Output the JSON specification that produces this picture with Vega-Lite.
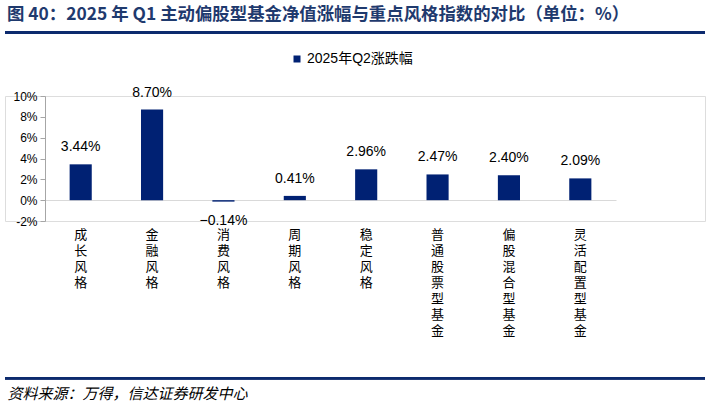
{
  "$schema": "https://vega.github.io/schema/vega-lite/v6.json",
  "width": 700,
  "height": 125,
  "autosize": "none",
  "padding": {"left": 5, "top": 96, "right": 1, "bottom": 187},
  "background": "white",
  "title": {
    "text": "图 40：2025 年 Q1 主动偏股型基金净值涨幅与重点风格指数的对比（单位：%）",
    "anchor": "start",
    "frame": "group",
    "orient": "top",
    "offset": 8,
    "dx": 2,
    "font": "Noto Sans CJK SC",
    "fontSize": 17.4,
    "fontWeight": "bold",
    "color": "#1f3a6e"
  },
  "data": {
    "values": [
      {"cat": "成长风格", "v": 3.44},
      {"cat": "金融风格", "v": 8.70},
      {"cat": "消费风格", "v": -0.14},
      {"cat": "周期风格", "v": 0.41},
      {"cat": "稳定风格", "v": 2.96},
      {"cat": "普通股票型基金", "v": 2.47},
      {"cat": "偏股混合型基金", "v": 2.40},
      {"cat": "灵活配置型基金", "v": 2.09}
    ]
  },
  "transform": [
    {"calculate": "format(datum.v, '.2f') + '%'", "as": "label"}
  ],
  "resolve": {"axis": {"x": "independent", "y": "independent"}},
  "layer": [
    {
      "mark": {"type": "rule", "color": "#0c2b6e", "strokeWidth": 2},
      "encoding": {"y": {"datum": 16.1, "axis": null}}
    },
    {
      "mark": {"type": "rule", "color": "#0c2b6e", "strokeWidth": 2},
      "encoding": {"y": {"datum": -17.1, "axis": null}}
    },
    {
      "mark": {"type": "bar", "color": "#002173"},
      "encoding": {
        "x": {
          "field": "cat",
          "type": "nominal",
          "sort": null,
          "scale": {"range": [40, 611], "paddingInner": 0.69, "paddingOuter": 0.345},
          "axis": {
            "orient": "bottom",
            "title": "资料来源：万得，信达证券研发中心",
            "titleFont": "Noto Sans CJK SC",
            "titleFontStyle": "italic",
            "titleFontWeight": "normal",
            "titleFontSize": 15,
            "titleColor": "#000000",
            "titleX": 2,
            "titleY": 172,
            "titleAlign": "left",
            "titleBaseline": "middle",
            "titleAnchor": "start",
            "domain": false,
            "ticks": false,
            "labelAngle": 0,
            "labelAlign": "center",
            "labelBaseline": "top",
            "labelPadding": 7,
            "labelLineHeight": 16,
            "labelFont": "Noto Sans CJK SC",
            "labelFontSize": 13,
            "labelColor": "#000000",
            "labelOverlap": false,
            "labelBound": false,
            "labelExpr": "split(datum.label, '')"
          }
        },
        "y": {
          "field": "v",
          "type": "quantitative",
          "scale": {"domain": [-2, 10], "nice": false},
          "axis": {
            "title": null,
            "offset": -40,
            "values": [-2, 0, 2, 4, 6, 8, 10],
            "labelExpr": "datum.value + '%'",
            "labelOverlap": false,
            "labelBound": false,
            "labelFlush": false,
            "grid": false,
            "domainColor": "#a6a6a6",
            "tickColor": "#a6a6a6",
            "tickSize": 5,
            "labelPadding": 3,
            "labelFont": "Liberation Sans",
            "labelFontSize": 12,
            "labelColor": "#000000"
          }
        },
        "color": {
          "datum": "2025年Q2涨跌幅",
          "scale": {"range": ["#002173"]},
          "legend": {
            "orient": "none",
            "legendX": 285,
            "legendY": -44,
            "title": null,
            "symbolType": "square",
            "symbolSize": 49,
            "symbolStrokeWidth": 0,
            "labelFont": "Liberation Sans, Noto Sans CJK SC",
            "labelFontSize": 14,
            "labelColor": "#000000",
            "labelOffset": 3
          }
        }
      }
    },
    {
      "transform": [{"filter": "datum.v >= 0"}],
      "mark": {"type": "text", "baseline": "bottom", "dy": -10, "font": "Liberation Sans", "fontSize": 14, "color": "#000000"},
      "encoding": {
        "x": {
          "field": "cat",
          "type": "nominal",
          "sort": null,
          "axis": {
            "orient": "top",
            "offset": -104,
            "title": null,
            "labels": false,
            "ticks": false,
            "domainColor": "#d9d9d9",
            "domainWidth": 1
          }
        },
        "y": {"field": "v", "type": "quantitative", "axis": null},
        "text": {"field": "label"}
      }
    },
    {
      "transform": [{"filter": "datum.v < 0"}],
      "mark": {"type": "text", "baseline": "top", "dy": 12, "font": "Liberation Sans", "fontSize": 14, "color": "#000000"},
      "encoding": {
        "x": {"field": "cat", "type": "nominal", "sort": null, "axis": null},
        "y": {"field": "v", "type": "quantitative", "axis": null},
        "text": {"field": "label"}
      }
    }
  ]
}
